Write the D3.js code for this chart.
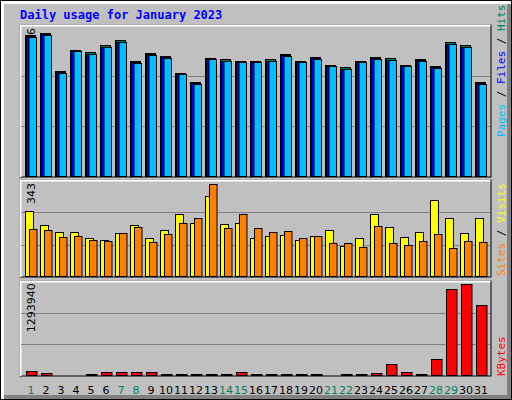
<!DOCTYPE html>
<html><head><meta charset="utf-8">
<script src="https://cdn.jsdelivr.net/npm/d3@7"></script>
<style>body{margin:0;background:#fff}</style>
</head><body>
<div id="chart"></div>
<script>
const days = d3.range(1, 32);
const weekend = [1, 7, 8, 14, 15, 21, 22, 28, 29];
const hits = [52500, 53200, 39200, 47100, 46000, 48700, 50500, 42800, 45900, 44800, 38500, 35100, 44100, 43400, 43000,
  43000, 43400, 45500, 43000, 44400, 41500, 40500, 43000, 44400, 43800, 41500, 43700, 41100, 49800, 48700, 35100];
const files = hits.map(v => v - 500);
const pages = hits.map(v => v - 700);
const visits = [242, 190, 164, 164, 142, 134, 160, 190, 142, 172, 231, 198, 298, 194, 198,
  142, 149, 153, 134, 149, 172, 112, 142, 231, 182, 145, 164, 283, 216, 160, 216];
const sites = [175, 171, 145, 149, 134, 130, 160, 182, 127, 157, 198, 216, 343, 179, 231,
  179, 164, 168, 142, 149, 123, 123, 108, 186, 123, 116, 130, 157, 104, 130, 127];
const kbytes = [51900, 29800, 5800, 1400, 15600, 37300, 37300, 42500, 42500, 14300, 14300, 9900, 9900, 14300, 37300,
  9900, 14300, 14300, 14300, 14300, 1400, 9900, 18300, 27500, 162000, 46600, 14300, 226700, 382500, 1293940 * 0 + 1293940, 303600];
kbytes[28] = 1223000; kbytes[29] = 1293940; kbytes[30] = 1000000;
const maxHits = 54736, maxSites = 343, maxK = 1293940;

const W = 512, H = 400;
const svg = d3.select("#chart").append("svg").attr("width", W).attr("height", H)
  .style("font-family", "DejaVu Sans Mono, monospace");

// frame
svg.append("rect").attr("x", 0).attr("y", 0).attr("width", W).attr("height", H).attr("fill", "#000");
svg.append("rect").attr("x", 1).attr("y", 1).attr("width", W - 2).attr("height", H - 2).attr("fill", "#fff");
svg.append("rect").attr("x", 4).attr("y", 4).attr("width", W - 5).attr("height", H - 5).attr("fill", "#808080");
svg.append("rect").attr("x", 4).attr("y", 4).attr("width", W - 9).attr("height", H - 9).attr("fill", "#c0c0c0");

svg.append("text").attr("x", 20).attr("y", 19).attr("fill", "#0000ff")
  .style("font-size", "12px").style("font-weight", "bold").text("Daily usage for January 2023");

const x = d3.scaleBand().domain(days).range([20, 485]);

const panels = [
  { top: 25, bottom: 177, yTop: 29, max: maxHits },
  { top: 180, bottom: 277, yTop: 184, max: maxSites },
  { top: 281, bottom: 376, yTop: 284.3, max: maxK }
];
panels.forEach(p => {
  svg.append("rect").attr("x", 20).attr("y", p.top).attr("width", 471).attr("height", p.bottom - p.top)
    .attr("fill", "#c0c0c0").attr("stroke", "#000").attr("stroke-width", 1);
  svg.append("path").attr("d", `M20.5,${p.bottom}V${p.top + 0.5}H490.5`).attr("stroke", "#fff")
    .attr("stroke-width", 2).attr("fill", "none");
  for (let k = 1; k <= 2; k++) {
    const gy = Math.round(p.bottom - k * (p.bottom - p.top) / 3) + 0.5;
    svg.append("line").attr("x1", 21).attr("x2", 490).attr("y1", gy).attr("y2", gy)
      .attr("stroke", "#808080").attr("stroke-width", 1);
  }
  p.y = d3.scaleLinear().domain([0, p.max]).range([p.bottom - 1, p.yTop]);
  svg.append("text").attr("transform", `translate(${35},${p.yTop - 1}) rotate(-90)`)
    .attr("text-anchor", "end").style("font-size", "11px").style("font-family", "DejaVu Sans")
    .attr("fill", "#000").text(p.max);
});

function bars(data, p, dx, w, fill) {
  svg.append("g").selectAll("rect").data(data).join("rect")
    .attr("x", (d, i) => x(days[i]) + dx + 0.5)
    .attr("y", d => Math.round(p.y(d)) + 0.5)
    .attr("width", w)
    .attr("height", d => Math.max(0, Math.round(p.y(0) - p.y(d))))
    .attr("fill", fill).attr("stroke", "#000").attr("stroke-width", 1);
}
bars(hits, panels[0], 5, 10, "#00805c");
bars(files, panels[0], 6, 9, "#0000ff");
bars(pages, panels[0], 8.5, 7.5, "#00bfff");
bars(visits, panels[1], 5, 8, "#ffff00");
bars(sites, panels[1], 9, 7.5, "#ff8000");
bars(kbytes, panels[2], 6, 10.5, "#ff0000");

svg.append("g").selectAll("text").data(days).join("text")
  .attr("x", d => x(d) + 11).attr("y", 394).attr("text-anchor", "middle")
  .style("font-size", "11px").style("font-family", "DejaVu Sans")
  .attr("fill", d => weekend.includes(d) ? "#00805c" : "#000").text(d => d);

// right labels
function vlabel(y, parts) {
  const t = svg.append("text").attr("transform", `translate(505,${y}) rotate(-90)`)
    .style("font-size", "11px").style("font-family", "DejaVu Sans Mono");
  parts.forEach(([s, c]) => t.append("tspan").attr("fill", c).text(s));
}
vlabel(137, [["Pages", "#00bfff"], [" / ", "#000"], ["Files", "#0000ff"], [" / ", "#000"], ["Hits", "#00805c"]]);
vlabel(276, [["Sites", "#ff8000"], [" / ", "#000"], ["Visits", "#ffff00"]]);
vlabel(376, [["KBytes", "#ff0000"]]);
</script>
</body></html>
